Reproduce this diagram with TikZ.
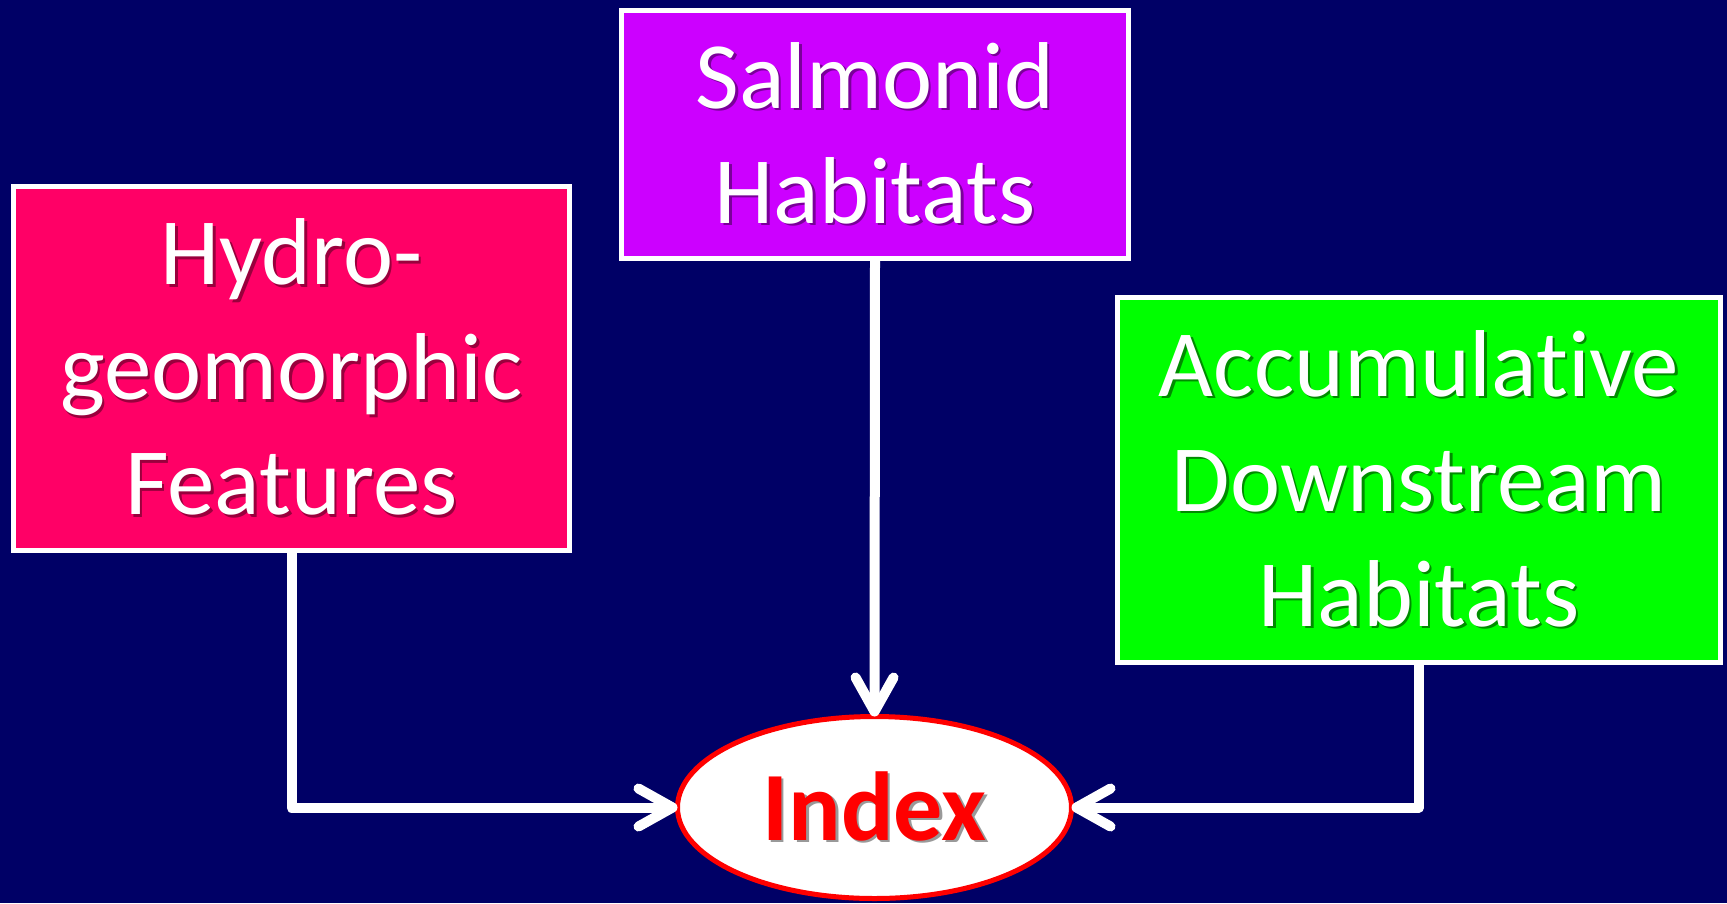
\documentclass[tikz,border=0pt]{standalone}
\usepackage{fontspec}
\setmainfont{Carlito}[RawFeature={-liga;-clig;-dlig;-rlig;-calt}]
\usetikzlibrary{positioning,shapes,arrows.meta}
\definecolor{navy}{RGB}{0,0,102}
\definecolor{hydropink}{RGB}{255,0,102}
\definecolor{salmpurple}{RGB}{204,0,255}
\definecolor{accgreen}{RGB}{0,255,0}
\newcommand{\shline}[1]{\makebox[0pt][l]{\kern2.5pt\raisebox{-2.5pt}{\color{shd}#1}}#1}
\begin{document}
\begin{tikzpicture}[x=1pt,y=1pt]
                        \tikzstyle{every node}=[inner sep=0,outer sep=0]
                        \tikzstyle{box}=[rectangle,draw=white,line width=5,align=center,text=white,
                            font=\fontsize{95}{115}\selectfont]
                        \tikzstyle{hydro}=[box,fill=hydropink,minimum width=556,minimum height=364,
                            execute at begin node={\colorlet{shd}{hydropink!60!black}}]
                        \tikzstyle{salm}=[box,fill=salmpurple,minimum width=507,minimum height=248,
                            execute at begin node={\colorlet{shd}{salmpurple!60!black}}]
                        \tikzstyle{accum}=[box,fill=accgreen,minimum width=603,minimum height=365,
                            execute at begin node={\colorlet{shd}{accgreen!55!black}}]
                        \tikzstyle{result}=[ellipse,draw=red,fill=white,line width=5,text=red,
                            minimum width=394,minimum height=182,
                            font=\fontsize{98}{115}\selectfont\bfseries,
                            execute at begin node={\colorlet{shd}{black!40}}]
                        \tikzstyle{link}=[draw=white,line width=10,line join=round,
                            -{Straight Barb[length=34pt,width=38pt,round]}]
                        {
                            \fill[navy] (0,0) rectangle (1727,-903);
                            \useasboundingbox (0,0) rectangle (1727,-903);

                            \node[salm] (salmonid) at (875,-134.5) {\shline{Salmonid}\\\shline{Habitats}};
                            \node[hydro] (hydrogeo) at (291.5,-368.5) {\shline{Hydro-}\\\shline{geomorphic}\\\shline{Features}};
                            \node[accum] (downstream) at (1419,-480) {\shline{Accumulative}\\\shline{Downstream}\\\shline{Habitats}};
                            \node[result] (index) at (874.5,-807.5) {\shline{Index}};

                            \draw[link] (salmonid.south) -- (index.north);
                            \draw[link] (hydrogeo.south) |- (index.west);
                            \draw[link] (downstream.south) |- (index.east);
                        }
                    \end{tikzpicture}
\end{document}
